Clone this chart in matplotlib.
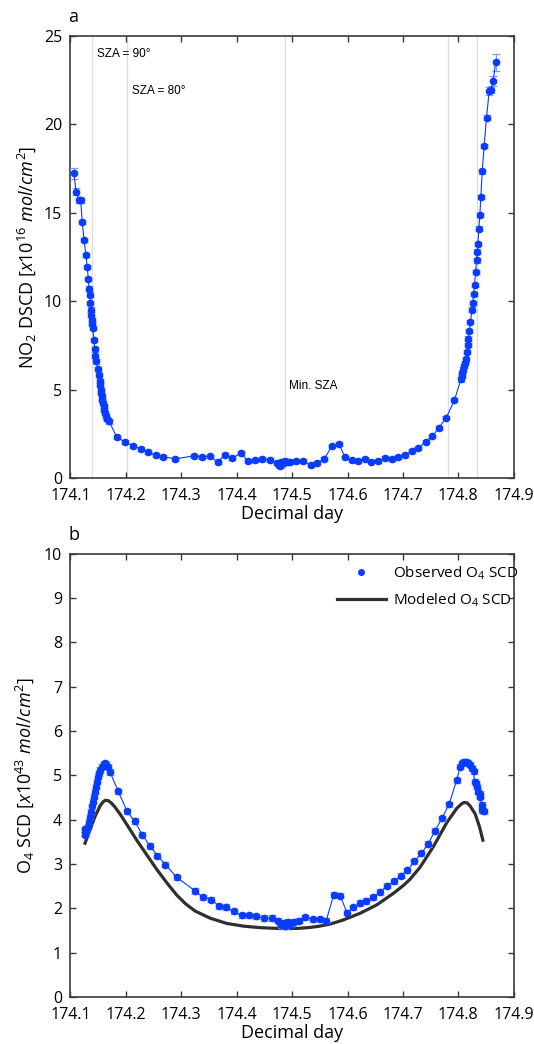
import numpy as np
import matplotlib
matplotlib.use("Agg")
import matplotlib.pyplot as plt
from matplotlib.lines import Line2D

plt.rcParams['font.family'] = ['Open Sans', 'DejaVu Sans']
plt.rcParams['mathtext.fontset'] = 'custom'
plt.rcParams['mathtext.rm'] = 'Open Sans'
plt.rcParams['mathtext.it'] = 'Open Sans:italic'

# ---- panel a : NO2 DSCD (x1e16 molec/cm2) ----
no2_day_left = [174.1063, 174.1099, 174.1153, 174.1184, 174.1213, 174.1244, 174.1280, 174.1303,
                174.1321, 174.1334, 174.1347, 174.1358, 174.1370, 174.1376, 174.1388, 174.1394,
                174.1401, 174.1424, 174.1437, 174.1448, 174.1460, 174.1497, 174.1509, 174.1527,
                174.1538, 174.1551, 174.1558, 174.1565, 174.1577, 174.1589, 174.1601, 174.1613,
                174.1625, 174.1637, 174.1655, 174.1698]
no2_val_left = [17.23, 16.19, 15.70, 15.70, 14.47, 13.45, 12.60, 11.92,
                11.28, 10.72, 10.38, 9.91, 9.53, 9.25, 8.96, 8.70,
                8.49, 7.81, 7.28, 6.89, 6.60, 6.17, 5.83, 5.49,
                5.28, 5.00, 4.80, 4.62, 4.43, 4.25, 4.06, 3.87,
                3.68, 3.49, 3.34, 3.21]
no2_err_left = [0.33, 0.20, 0.15, 0.15] + [0.12] * 32

no2_day_mid = [174.1836, 174.1986, 174.2130, 174.2269, 174.2401, 174.2539, 174.2672, 174.2894,
               174.3225, 174.3369, 174.3514, 174.3658, 174.3790, 174.3922, 174.4073, 174.4199,
               174.4331, 174.4464, 174.4596, 174.4734, 174.4764, 174.4788, 174.4806, 174.4824,
               174.4848, 174.4873, 174.4897, 174.4927, 174.4963, 174.5065, 174.5203, 174.5336,
               174.5456, 174.5582, 174.5714, 174.5847, 174.5955, 174.6075, 174.6196, 174.6316,
               174.6430, 174.6556, 174.6677, 174.6797, 174.6917, 174.7037, 174.7158, 174.7278,
               174.7410, 174.7530, 174.7651, 174.7783, 174.7931]
no2_val_mid = [2.32, 2.04, 1.83, 1.66, 1.47, 1.30, 1.21, 1.09,
               1.26, 1.21, 1.23, 0.92, 1.32, 1.13, 1.42, 0.98,
               1.00, 1.09, 1.04, 0.85, 0.75, 0.70, 0.94, 0.81,
               0.89, 0.98, 0.92, 0.89, 0.92, 0.96, 0.98, 0.72,
               0.85, 1.09, 1.79, 1.94, 1.17, 1.00, 0.98, 1.11,
               0.94, 0.98, 1.13, 1.09, 1.21, 1.32, 1.53, 1.68,
               2.06, 2.36, 2.85, 3.42, 4.41]
no2_err_mid = [0.10] * 53

no2_day_right = [174.8046, 174.8058, 174.8070, 174.8082, 174.8106, 174.8118, 174.8130, 174.8148,
                 174.8166, 174.8184, 174.8202, 174.8220, 174.8245, 174.8263, 174.8275, 174.8293,
                 174.8311, 174.8329, 174.8341, 174.8353, 174.8371, 174.8389, 174.8407, 174.8431,
                 174.8467, 174.8509, 174.8558, 174.8588, 174.8630, 174.8672]
no2_val_right = [5.58, 5.77, 5.96, 6.14, 6.33, 6.52, 6.71, 7.12,
                 7.51, 7.89, 8.32, 8.83, 9.53, 9.90, 10.43, 10.92,
                 11.67, 12.31, 12.81, 13.25, 14.11, 14.88, 15.91, 17.34,
                 18.79, 20.39, 21.89, 21.96, 22.46, 23.51]
no2_err_right = [0.12] * 25 + [0.15, 0.20, 0.20, 0.28, 0.48]

sza_lines = [174.138, 174.202, 174.488, 174.782, 174.834]

# ---- panel b : O4 SCD (x1e43) ----
o4_day = [174.1255, 174.1262, 174.1268, 174.1275, 174.1285, 174.1311, 174.1334, 174.1352,
          174.1365, 174.1383, 174.1412, 174.1424, 174.1442, 174.1455, 174.1473, 174.1491,
          174.1515, 174.1533, 174.1563, 174.1600, 174.1623, 174.1650, 174.1683, 174.1713,
          174.1862, 174.2022, 174.2157, 174.2298, 174.2434, 174.2569, 174.2711, 174.2920,
          174.3252, 174.3400, 174.3542, 174.3683, 174.3812, 174.3954, 174.4089, 174.4225,
          174.4354, 174.4495, 174.4631, 174.4750, 174.4790, 174.4820, 174.4850, 174.4880,
          174.4900, 174.4930, 174.4960, 174.5000, 174.5030, 174.5123, 174.5240, 174.5375,
          174.5505, 174.5615, 174.5751, 174.5868, 174.5991, 174.6108, 174.6225, 174.6342,
          174.6465, 174.6588, 174.6717, 174.6840, 174.6963, 174.7080, 174.7209, 174.7332,
          174.7455, 174.7578, 174.7705, 174.7834, 174.7969, 174.8034, 174.8064, 174.8106,
          174.8142, 174.8184, 174.8214, 174.8245, 174.8275, 174.8293, 174.8317, 174.8335,
          174.8359, 174.8383, 174.8395, 174.8419, 174.8431, 174.8465]
o4_val = [3.72, 3.78, 3.66, 3.74, 3.80, 3.84, 3.96, 4.07,
          4.18, 4.30, 4.41, 4.52, 4.63, 4.75, 4.86, 4.97,
          5.05, 5.12, 5.20, 5.25, 5.27, 5.24, 5.20, 5.08,
          4.64, 4.19, 3.97, 3.66, 3.41, 3.19, 2.99, 2.70,
          2.39, 2.25, 2.20, 2.05, 2.03, 1.93, 1.84, 1.84,
          1.82, 1.78, 1.78, 1.72, 1.66, 1.62, 1.68, 1.60,
          1.65, 1.70, 1.63, 1.68, 1.70, 1.72, 1.80, 1.75,
          1.75, 1.72, 2.31, 2.29, 1.90, 2.02, 2.12, 2.17,
          2.25, 2.37, 2.51, 2.61, 2.74, 2.86, 3.06, 3.24,
          3.45, 3.75, 4.03, 4.35, 4.89, 5.20, 5.27, 5.31,
          5.31, 5.29, 5.24, 5.16, 5.09, 4.86, 4.82, 4.75,
          4.63, 4.58, 4.52, 4.33, 4.22, 4.19]
o4_err = [0.06] * 94

model_day = [174.1262, 174.1352, 174.1442, 174.1533, 174.1585, 174.1630, 174.1683, 174.1735,
             174.1800, 174.1894, 174.2044, 174.2195, 174.2376, 174.2557, 174.2737, 174.2918,
             174.3080, 174.3250, 174.3519, 174.3821, 174.4121, 174.4422, 174.4700, 174.4904,
             174.5125, 174.5325, 174.5500, 174.5700, 174.5926, 174.6228, 174.6530, 174.6829,
             174.7011, 174.7131, 174.7311, 174.7553, 174.7794, 174.7974, 174.8060, 174.8106,
             174.8160, 174.8214, 174.8305, 174.8383, 174.8443]
model_val = [3.47, 3.77, 4.07, 4.31, 4.40, 4.44, 4.43, 4.38,
             4.29, 4.13, 3.84, 3.54, 3.21, 2.88, 2.58, 2.30,
             2.10, 1.94, 1.78, 1.66, 1.60, 1.565, 1.55, 1.545,
             1.55, 1.57, 1.60, 1.65, 1.74, 1.89, 2.08, 2.34,
             2.52, 2.66, 2.93, 3.40, 3.94, 4.26, 4.36, 4.39,
             4.38, 4.31, 4.13, 3.84, 3.54]

xticks = [174.1, 174.2, 174.3, 174.4, 174.5, 174.6, 174.7, 174.8, 174.9]

blue = '#0a3cff'
err_blue = '#7f9bff'
axis_grey = '#3a3a3a'


def style_axes(ax):
  for side in ['top', 'bottom', 'left', 'right']:
    ax.spines[side].set_color(axis_grey)
    ax.spines[side].set_linewidth(1.2)
  ax.tick_params(direction='in', top=True, right=True, length=4, width=1,
                 color=axis_grey, labelsize=11.5)
  ax.tick_params(axis='x', pad=7)
  ax.tick_params(axis='y', pad=6)
  ax.set_xlim(174.1, 174.9)
  ax.set_xticks(xticks)
  ax.set_xticklabels(['%.1f' % t for t in xticks])
  ax.set_xlabel('Decimal day', fontsize=13, labelpad=1)


fig = plt.figure(figsize=(5.34, 10.44), dpi=100)
ax1 = fig.add_axes([0.132, 0.542, 0.830, 0.4235])
ax2 = fig.add_axes([0.132, 0.045, 0.830, 0.4245])

# panel a
for d in sza_lines:
  ax1.axvline(d, color='#dedede', lw=0.9, zorder=0)

no2_day = no2_day_left + no2_day_mid + no2_day_right
no2_val = no2_val_left + no2_val_mid + no2_val_right
no2_err = no2_err_left + no2_err_mid + no2_err_right
ax1.errorbar(no2_day, no2_val, yerr=no2_err, fmt='o-', color=blue, ms=4.5, lw=0.8,
             ecolor=err_blue, elinewidth=0.9, capsize=3, capthick=0.9, zorder=3)

ax1.text(174.148, 24.0, 'SZA = 90°', fontsize=8.5, family='Liberation Sans', va='center')
ax1.text(174.211, 21.9, 'SZA = 80°', fontsize=8.5, family='Liberation Sans', va='center')
ax1.text(174.494, 5.2, 'Min. SZA', fontsize=8.5, family='Liberation Sans', va='center')

ax1.set_ylim(0, 25)
ax1.set_yticks([0, 5, 10, 15, 20, 25])
style_axes(ax1)
ax1.set_ylabel(r'NO$_2$ DSCD [$\mathit{x10^{16}\ mol/cm^{2}}$]', fontsize=13, labelpad=4)

# panel b
ax2.plot(model_day, model_val, color='#2f2f2f', lw=2.3, zorder=2)
ax2.errorbar(o4_day, o4_val, yerr=o4_err, fmt='o-', color=blue, ms=4.5, lw=0.8,
             ecolor=err_blue, elinewidth=0.9, capsize=3, capthick=0.9, zorder=3)
ax2.set_ylim(0, 10)
ax2.set_yticks(range(0, 11))
style_axes(ax2)
ax2.set_ylabel(r'O$_4$ SCD [$\mathit{x10^{43}\ mol/cm^{2}}$]', fontsize=13, labelpad=6)

handles = [Line2D([], [], marker='o', ls='none', color=blue, ms=4),
           Line2D([], [], color='#2f2f2f', lw=2.3)]
ax2.legend(handles, ['Observed O$_4$ SCD', 'Modeled O$_4$ SCD'], loc='upper right',
           bbox_to_anchor=(1.035, 1.0), frameon=False, fontsize=11, borderaxespad=0.2,
           handlelength=3.2, handletextpad=0.5, labelspacing=0.6, borderpad=0.5)

fig.text(0.128, 0.984, 'a', fontsize=13, va='center')
fig.text(0.128, 0.4875, 'b', fontsize=13, va='center')

fig.savefig('out.png', dpi=100)
